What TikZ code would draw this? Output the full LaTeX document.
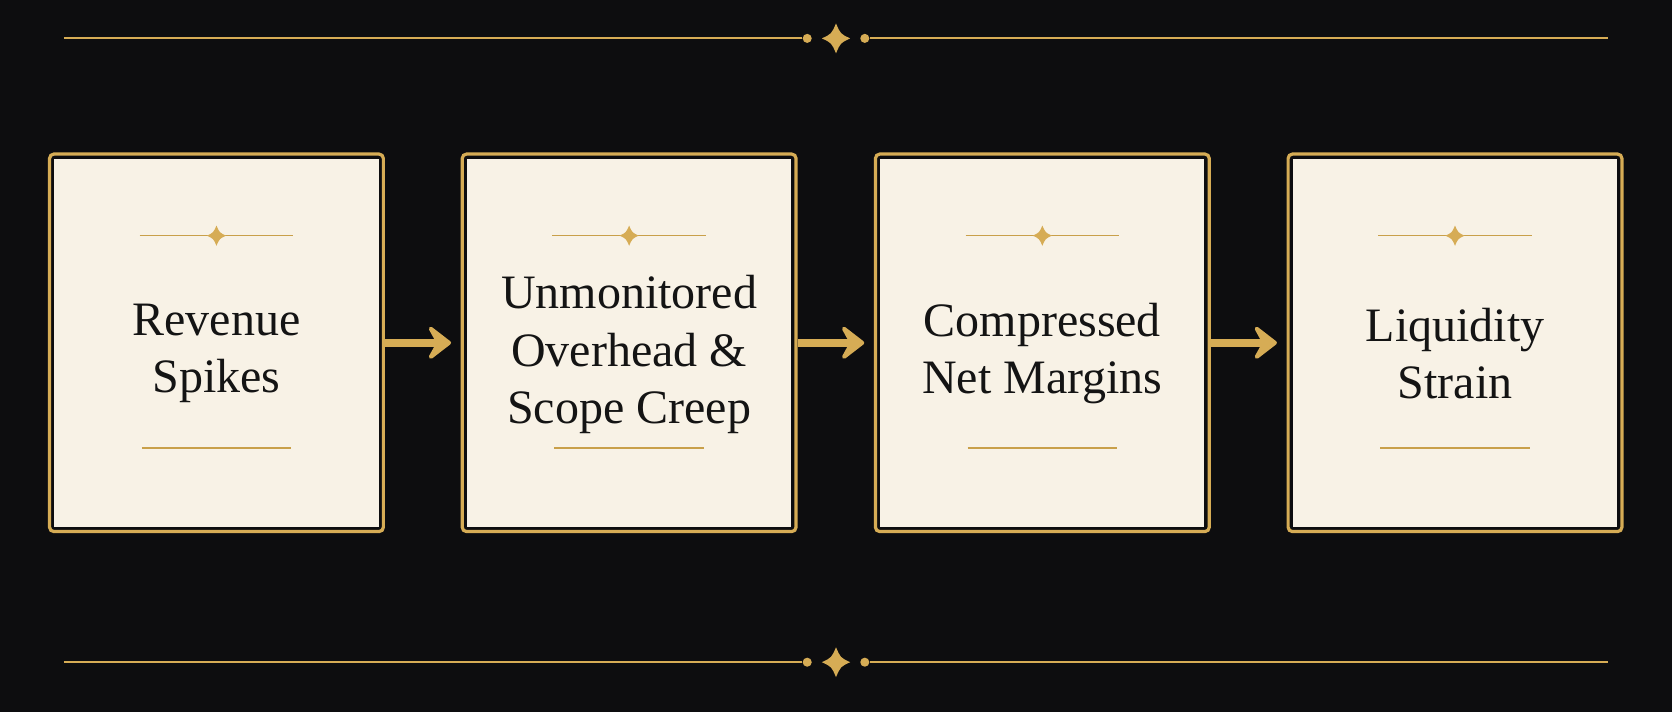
\documentclass[tikz,border=0pt]{standalone}
\usepackage{fontspec}
\setmainfont{Liberation Serif}
\usetikzlibrary{arrows.meta,calc}
\definecolor{bgdark}{HTML}{0D0D0F}
\definecolor{gold}{HTML}{D6AC55}
\definecolor{goldline}{HTML}{C9A04A}
\definecolor{cream}{HTML}{F8F2E6}
\definecolor{ink}{HTML}{141414}
\tikzset{
  outerbox/.style={draw=gold, line width=3pt, fill=bgdark, rounded corners=4pt,
    minimum width=313pt, minimum height=354pt, inner sep=0pt},
  innerbox/.style={fill=cream, draw=none,
    minimum width=304pt, minimum height=345pt, inner sep=0pt},
  label/.style={align=center, text=ink, inner sep=0pt,
    font=\fontsize{45}{54}\selectfont},
  rule/.style={draw=gold, line width=1.8pt},
  inrule/.style={draw=goldline, line width=1.5pt},
  gdot/.style={circle, fill=gold, minimum size=8.5pt, inner sep=0pt},
  flow/.style={draw=gold, line width=7.5pt, shorten >=9pt,
    -{Stealth[length=26pt, width=40pt, inset=11pt, round]}},
  gstar/.pic={\fill[gold] (0,-1) .. controls (0.3,-0.3) .. (0.95,0)
     .. controls (0.3,0.3) .. (0,1) .. controls (-0.3,0.3) .. (-0.95,0)
     .. controls (-0.3,-0.3) .. (0,-1) -- cycle;}
}
\begin{document}
\begin{tikzpicture}[x=1pt,y=-1pt]
\fill[bgdark] (0,0) rectangle (1568,668);
\useasboundingbox (0,0) rectangle (1568,668);

% top and bottom ornaments
\foreach \yy/\nm in {36/t,621/b}{
  \coordinate (\nm L) at (60,\yy);
  \coordinate (\nm R) at (1508,\yy);
  \node[gdot] (\nm dl) at (757,\yy) {};
  \node[gdot] (\nm dr) at (811,\yy) {};
  \draw[rule] (\nm L) -- (\nm dl);
  \draw[rule] (\nm dr) -- (\nm R);
  \pic[scale=14] at (784,\yy) {gstar};
}

% boxes
\foreach \cx/\i in {203/1,590/2,977.5/3,1364.5/4}{
  \node[outerbox] (b\i) at (\cx,321.5) {};
  \node[innerbox] (c\i) at (b\i) {};
}
\node[label] (t1) at ($(b1)+(0,10)$) {Revenue\\Spikes};
\node[label] (t2) at ($(b2)+(0,11)$) {Unmonitored\\Overhead \&\\Scope Creep};
\node[label] (t3) at ($(b3)+(0,10)$) {Compressed\\Net Margins};
\node[label] (t4) at ($(b4)+(0,10)$) {Liquidity\\Strain};

% inner ornaments
\foreach \i in {1,2,3,4}{
  \draw[inrule] ($(b\i)+(-72,-100.5)$) -- ($(b\i)+(72,-100.5)$);
  \pic[scale=9.5] at ($(b\i)+(0,-100.5)$) {gstar};
  \draw[inrule] ($(b\i)+(-70,98.5)$) -- ($(b\i)+(70,98.5)$);
}

% arrows
\draw[flow] (b1.east) -- (b2.west);
\draw[flow] (b2.east) -- (b3.west);
\draw[flow] (b3.east) -- (b4.west);
\end{tikzpicture}
\end{document}
